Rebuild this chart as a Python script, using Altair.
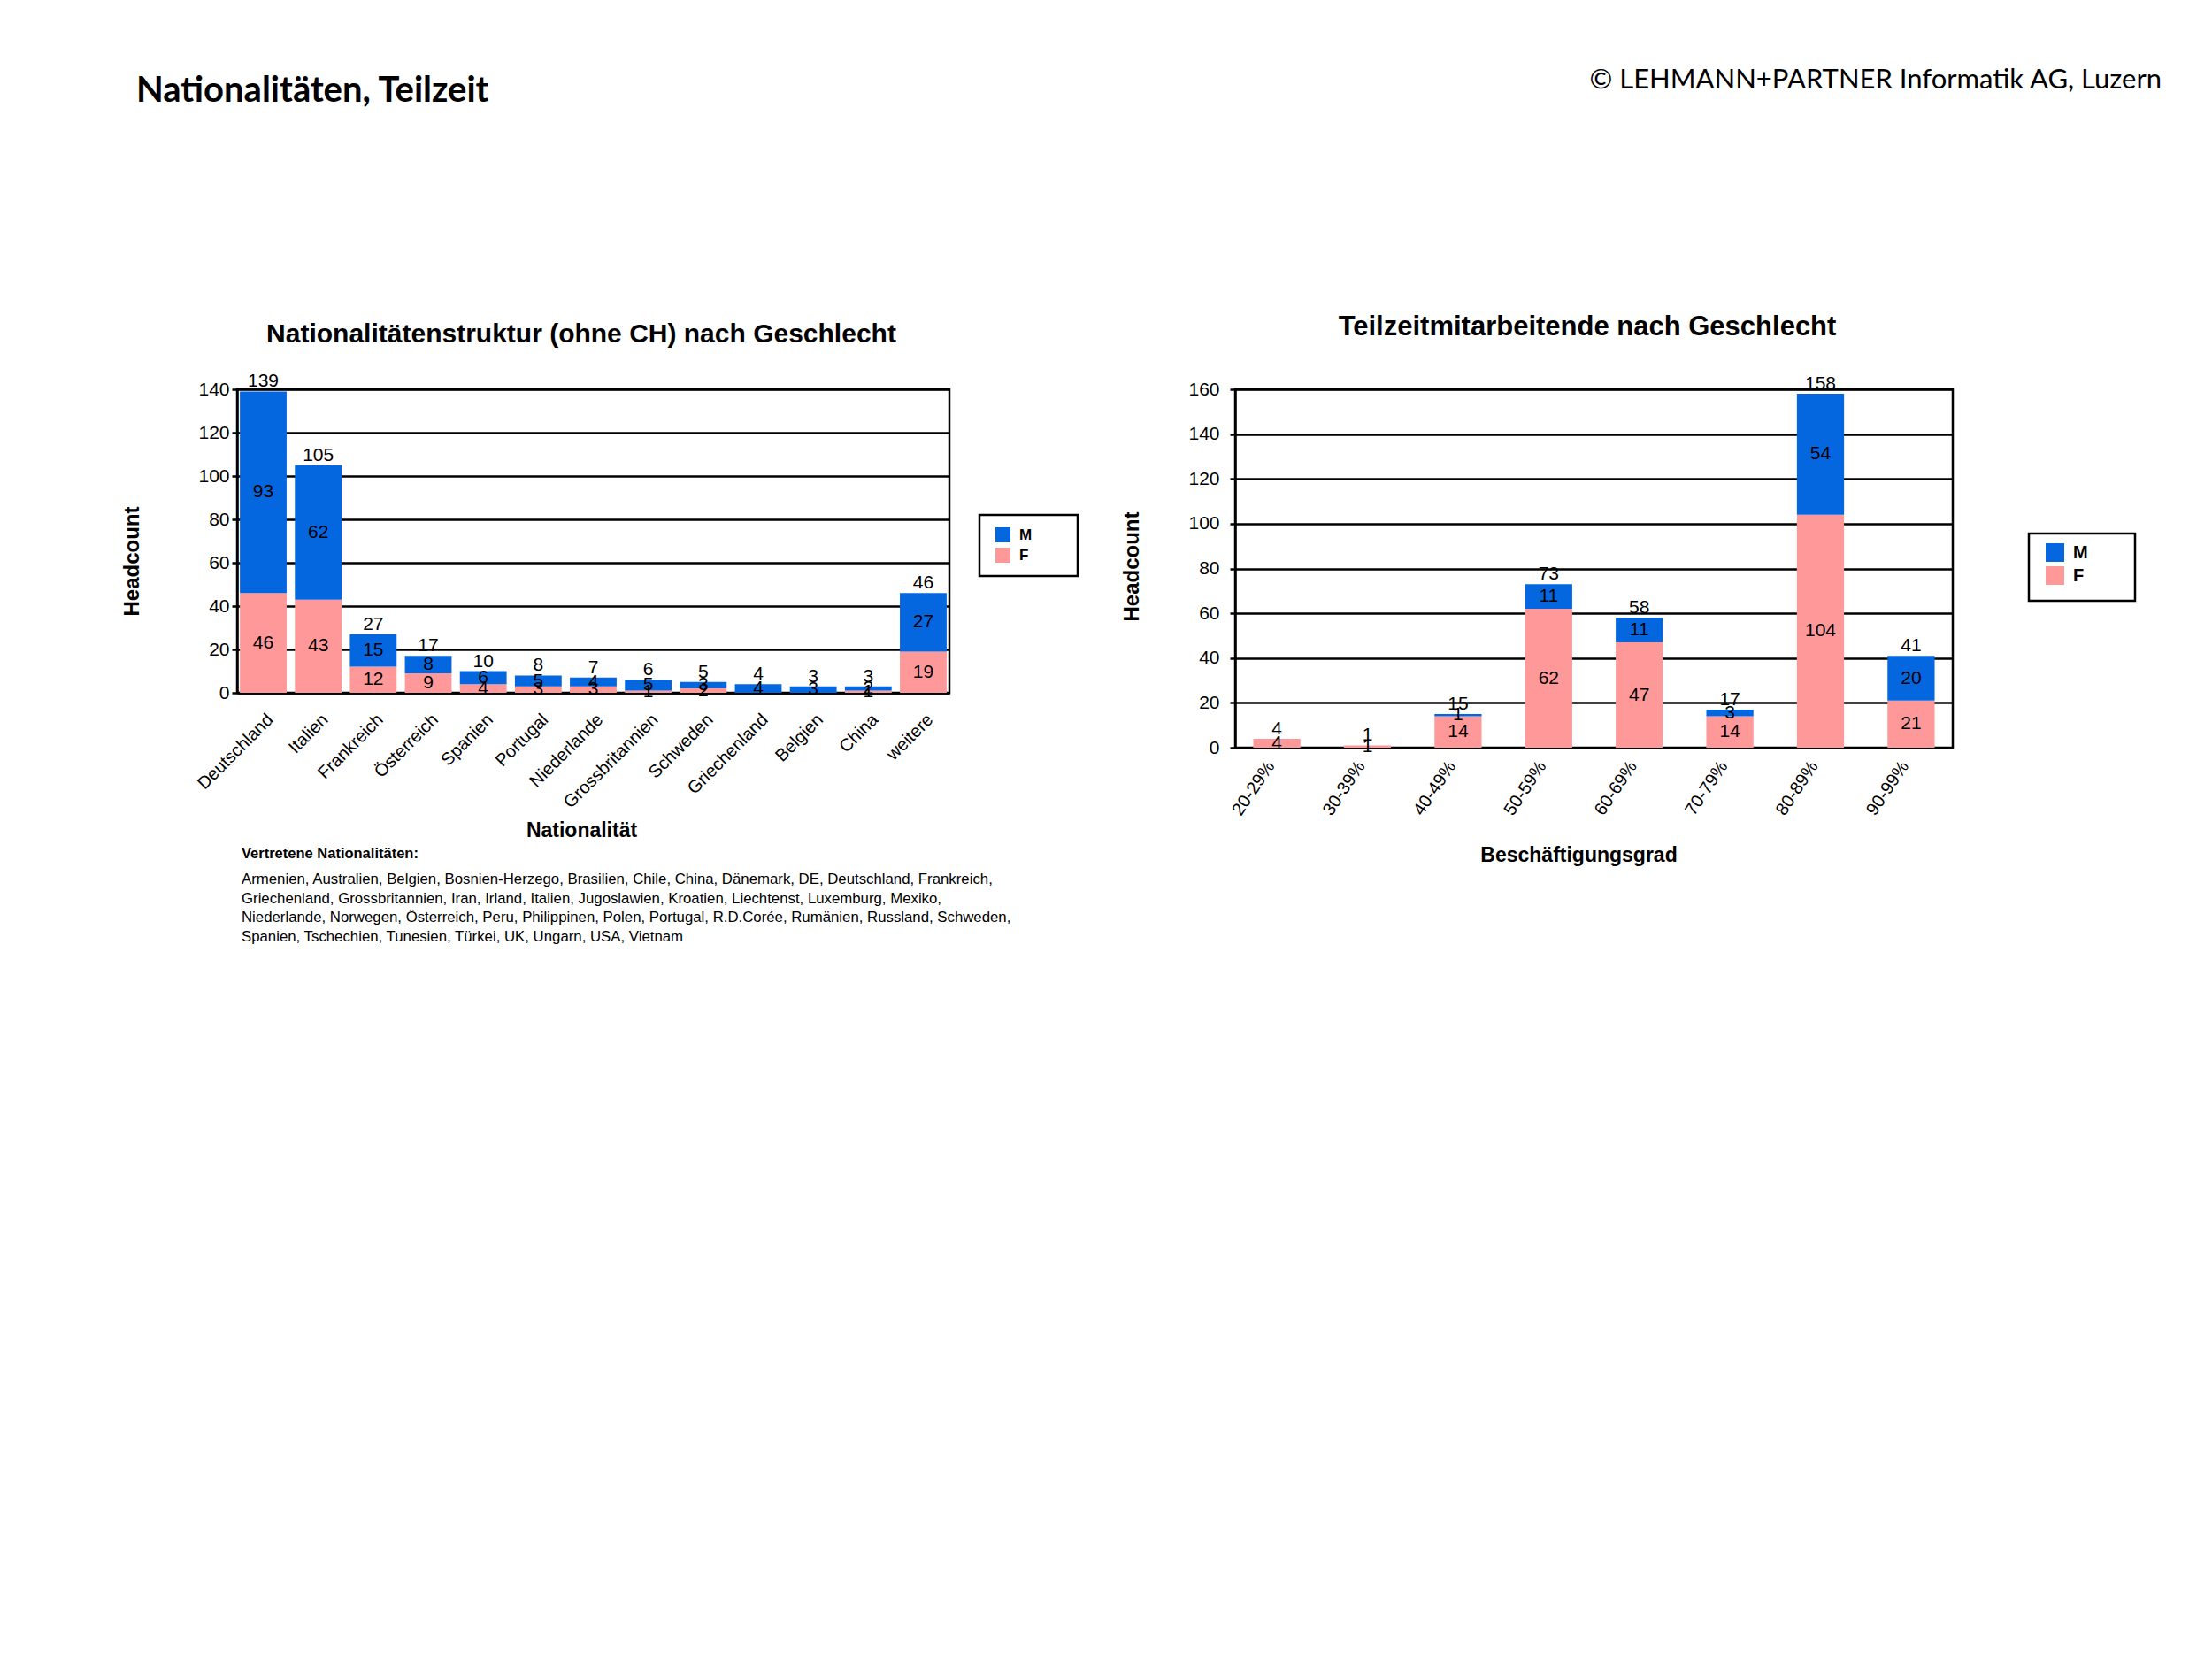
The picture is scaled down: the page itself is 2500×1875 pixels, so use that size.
import altair as alt
import pandas as pd

# ---------------- data ----------------
nat_categories = ["Deutschland", "Italien", "Frankreich", "Österreich", "Spanien", "Portugal",
                  "Niederlande", "Grossbritannien", "Schweden", "Griechenland", "Belgien", "China", "weitere"]
nat_m = [93, 62, 15, 8, 6, 5, 4, 5, 3, 4, 3, 2, 27]
nat_f = [46, 43, 12, 9, 4, 3, 3, 1, 2, 0, 0, 1, 19]
nat_ticks = [0, 20, 40, 60, 80, 100, 120, 140]

grad_categories = ["20-29%", "30-39%", "40-49%", "50-59%", "60-69%", "70-79%", "80-89%", "90-99%"]
grad_m = [0, 0, 1, 11, 11, 3, 54, 20]
grad_f = [4, 1, 14, 62, 47, 14, 104, 21]
grad_ticks = [0, 20, 40, 60, 80, 100, 120, 140, 160]

genders = ["M", "F"]
gender_colors = ["#0567e0", "#ff9999"]

page_title = "Nationalitäten, Teilzeit"
copyright_text = "© LEHMANN+PARTNER Informatik AG, Luzern"
nat_title = "Nationalitätenstruktur (ohne CH) nach Geschlecht"
grad_title = "Teilzeitmitarbeitende nach Geschlecht"
y_title = "Headcount"
nat_x_title = "Nationalität"
grad_x_title = "Beschäftigungsgrad"
footnote_title = "Vertretene Nationalitäten:"
footnote_lines = [
    "Armenien, Australien, Belgien, Bosnien-Herzego, Brasilien, Chile, China, Dänemark, DE, Deutschland, Frankreich,",
    "Griechenland, Grossbritannien, Iran, Irland, Italien, Jugoslawien, Kroatien, Liechtenst, Luxemburg, Mexiko,",
    "Niederlande, Norwegen, Österreich, Peru, Philippinen, Polen, Portugal, R.D.Corée, Rumänien, Russland, Schweden,",
    "Spanien, Tschechien, Tunesien, Türkei, UK, Ungarn, USA, Vietnam",
]

FONT = "Liberation Sans"
HFONT = "Lato"


def long_table(cats, m, f):
    rows = []
    for c, mv, fv in zip(cats, m, f):
        rows.append({"cat": c, "gender": "F", "value": fv, "rank": 0})
        rows.append({"cat": c, "gender": "M", "value": mv, "rank": 1})
    return pd.DataFrame(rows)


def text_layer(text, x, y, size, weight="normal", align="left", font=FONT, line_height=None):
    kw = dict(font=font, fontSize=size, fontWeight=weight, align=align, baseline="middle", color="black")
    if line_height is not None:
        kw["lineHeight"] = line_height
    return alt.Chart(pd.DataFrame({"k": [0]})).mark_text(**kw).encode(
        x=alt.value(x), y=alt.value(y), text=alt.value(text)
    )


def frame_layer(x, y, w, h):
    # outline drawn around the legend
    return alt.Chart(pd.DataFrame({"k": [0]})).mark_rect(
        fillOpacity=0, stroke="black", strokeWidth=2.5
    ).encode(x=alt.value(x), x2=alt.value(x + w), y=alt.value(y), y2=alt.value(y + h))


def panel(df, cats, ticks, w, h, pin, pout, label_angle, label_pad, label_off, ylab_pad,
          x_title, x_title_x, x_title_y, yt_x, yt_y, box, inset, sym, leg_font, extra):
    xs = alt.Scale(paddingInner=pin, paddingOuter=pout)
    xaxis = alt.Axis(
        title=x_title, labelAngle=label_angle, labelAlign="right", labelBaseline="middle",
        labelFont=FONT, labelFontSize=20, labelColor="black", labelPadding=label_pad,
        labelOffset=label_off,
        labelOverlap=False, ticks=False, domainColor="black", domainWidth=2.5,
        titleFont=FONT, titleFontSize=23, titleFontWeight="bold", titleColor="black",
        titleX=x_title_x, titleY=x_title_y, titleBaseline="middle", titleAlign="center",
    )
    ys = alt.Scale(domain=[ticks[0], ticks[-1]], nice=False)
    yaxis = alt.Axis(
        title=y_title, values=ticks, grid=True, gridColor="black", gridWidth=2.5, gridOpacity=1,
        tickSize=6, tickColor="black", tickWidth=2.5, domainColor="black", domainWidth=2.5,
        labelFont=FONT, labelFontSize=21, labelColor="black", labelPadding=ylab_pad,
        titleFont=FONT, titleFontSize=24, titleFontWeight="bold", titleColor="black",
        titleX=yt_x, titleY=yt_y, titleBaseline="middle", titleAlign="center",
    )
    X = alt.X("cat:N", sort=cats, scale=xs, axis=xaxis)
    base = alt.Chart(df)
    bx, by, bw, bh = box
    bars = base.mark_bar().encode(
        x=X,
        y=alt.Y("value:Q", stack="zero", scale=ys, axis=yaxis),
        color=alt.Color(
            "gender:N",
            scale=alt.Scale(domain=genders, range=gender_colors),
            legend=alt.Legend(
                orient="none", legendX=bx + inset[0], legendY=by + inset[1], title=None,
                padding=0,
                symbolType="square", symbolSize=sym * sym, symbolStrokeWidth=0,
                labelFont=FONT, labelFontSize=leg_font, labelFontWeight="bold", labelColor="black",
                labelOffset=10, rowPadding=5,
            ),
        ),
        order=alt.Order("rank:Q", sort="ascending"),
    )
    seg = (
        base.transform_stack(stack="value", groupby=["cat"], as_=["y0", "y1"],
                             sort=[alt.SortField("rank", order="ascending")])
        .transform_calculate(mid="(datum.y0 + datum.y1) / 2")
        .transform_filter("datum.value > 0")
        .mark_text(font=FONT, fontSize=21, color="black", baseline="middle")
        .encode(x=X, y=alt.Y("mid:Q", scale=ys, axis=yaxis), text="value:Q")
    )
    tot = (
        base.transform_aggregate(total="sum(value)", groupby=["cat"])
        .mark_text(font=FONT, fontSize=21, color="black", baseline="bottom", dy=-1)
        .encode(x=X, y=alt.Y("total:Q", scale=ys, axis=yaxis), text="total:Q")
    )
    return alt.layer(bars, seg, tot, frame_layer(bx, by, bw, bh), *extra).properties(width=w, height=h)


nat_df = long_table(nat_categories, nat_m, nat_f)
grad_df = long_table(grad_categories, grad_m, grad_f)

left_extra = [
    text_layer(page_title, -114, -337, 40, weight="bold", font=HFONT),
    text_layer(copyright_text, 2175, -349, 31, align="right", font=HFONT),
    text_layer(nat_title, 389, -62, 30, weight="bold", align="center"),
    text_layer(footnote_title, 5, 525, 16.5, weight="bold"),
    text_layer(footnote_lines, 5, 554, 16.8, line_height=21.7),
]
right_extra = [
    text_layer(grad_title, 398, -70, 31, weight="bold", align="center"),
]

left = panel(nat_df, nat_categories, nat_ticks, 805, 343, 0.15, 0.05, -45, 27, 8, 3,
             nat_x_title, 389, 155, -119, 194, (839, 142, 111, 69), (18, 14), 17, 17, left_extra)
right = panel(grad_df, grad_categories, grad_ticks, 811, 405, 0.48, 0.2, -56, 17, -7, 12,
              grad_x_title, 388, 121, -117, 200, (897, 163, 120, 76), (19, 11), 21, 20, right_extra)

chart = (
    alt.hconcat(left, right, spacing=323, bounds="flush")
    .resolve_scale(x="independent", y="independent", color="independent")
    .resolve_axis(x="independent", y="independent")
    .resolve_legend(color="independent")
    .configure_view(stroke="black", strokeWidth=2.5)
    .properties(padding={"left": 127, "top": 65, "right": 10, "bottom": 10}, background="white")
)

chart.save("out.html", embed_options={"renderer": "svg", "actions": False})
